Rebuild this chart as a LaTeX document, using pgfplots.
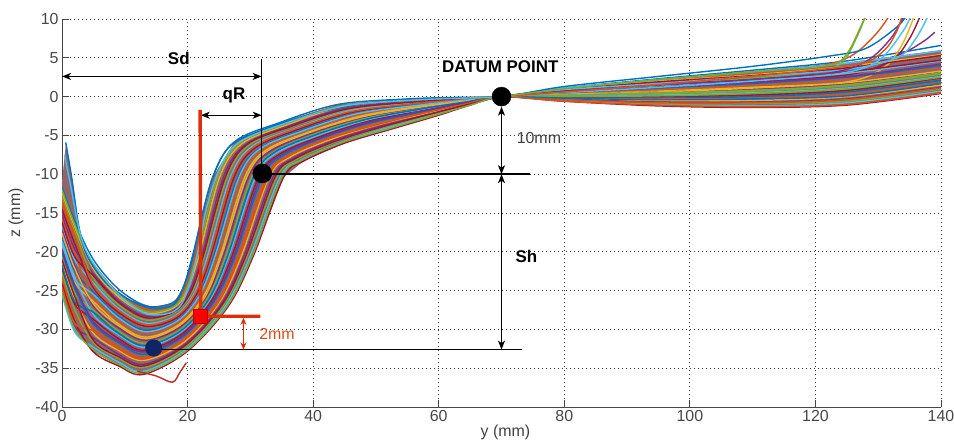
\documentclass[border=0pt]{standalone}
\usepackage{pgfplots}
\pgfplotsset{compat=1.18}
\usepackage{fontspec}
\setmainfont{Liberation Sans}
\usetikzlibrary{arrows.meta}

\definecolor{c1}{rgb}{0,0.447,0.741}
\definecolor{c2}{rgb}{0.85,0.325,0.098}
\definecolor{c3}{rgb}{0.929,0.694,0.125}
\definecolor{c4}{rgb}{0.494,0.184,0.556}
\definecolor{c5}{rgb}{0.466,0.674,0.188}
\definecolor{c6}{rgb}{0.301,0.745,0.933}
\definecolor{c7}{rgb}{0.635,0.078,0.184}
\definecolor{bandfill}{rgb}{0.56,0.40,0.42}
\definecolor{navy}{rgb}{0.06,0.15,0.40}
\definecolor{mred}{rgb}{0.86,0.18,0.04}
\definecolor{lred}{rgb}{0.86,0.30,0.10}

\tikzset{
  b/.style={smooth, tension=0.55, line width=1.4bp, line join=round},
  ann/.style={draw=black, line width=1.1bp,
    arrows={Stealth[length=9bp,width=7bp,inset=2.5bp]-Stealth[length=9bp,width=7bp,inset=2.5bp]}},
  bold/.style={font=\bfseries\fontsize{17}{17}\selectfont, text=black},
  norm/.style={font=\fontsize{16}{16}\selectfont, text=black!75},
}

\begin{document}
\begin{tikzpicture}
\begin{axis}[
  name=ax, scale only axis, width=879bp, height=388bp,
  xmin=0, xmax=140, ymin=-40, ymax=10,
  xtick={0,20,...,140}, ytick={-40,-35,...,10},
  axis x line*=bottom, axis y line*=left,
  axis line style={-, draw=black!72, line width=0.9bp},
  tick align=inside, major tick length=7bp,
  tick style={draw=black!72, line width=0.9bp},
  xtick pos=bottom, ytick pos=left,
  grid=major,
  major grid style={draw=black!80, line width=0.9bp, dash pattern=on 0.9bp off 3.1bp},
  ticklabel style={font=\fontsize{16}{18}\selectfont, text=black!72},
  /pgf/number format/assume math mode=true,
]

% envelope of the measured profiles
\addplot[draw=none, fill=bandfill] coordinates {
 (0,-11) (0.6,-6.2) (1.6,-10.7) (2.7,-16.8) (4,-20.5) (7,-24) (11,-26.3) (14.5,-27.1)
 (17.8,-26.6) (19.3,-24.6) (20.8,-20.5) (24,-10.4) (27.5,-5.8) (34.5,-3.4) (44,-1.0)
 (55,-0.3) (63,-0.1) (70,0) (80,1.1) (95,2.3) (110,3.3) (125,4.4) (140,6.0)
 (140,0.4) (125,-1.1) (110,-1.4) (95,-1.2) (80,-0.6) (70,0) (65,-1.1) (60,-2.4)
 (52,-4.3) (45,-6.0) (38.5,-8.3) (35.3,-10.4) (30.5,-20.5) (26.5,-27.0) (20,-32.8)
 (13,-35.8) (9,-34.7) (5,-32.9) (2,-30.3) (0,-25.5)};

% individual profiles
\addplot[b, c1] coordinates {(0,-11.7) (2,-16.0) (5,-21.0) (9,-24.8) (13.5,-27.0) (17.5,-26.6) (19.2,-24.8) (20.8,-20.5) (24.0,-10.4) (27.5,-5.8) (34.5,-3.4) (44.0,-1.0) (55.0,-0.3) (63.0,-0.1) (70,0) (80,1.1) (95,2.3) (110,3.4) (125,4.6) (140,6.6)};
\addplot[b, c2] coordinates {(0,-13.8) (2,-18.1) (5,-21.6) (9,-25.3) (13.5,-27.4) (17.6,-26.9) (19.6,-24.9) (21.3,-20.5) (24.6,-10.4) (28.1,-5.9) (35.0,-3.5) (44.4,-1.2) (55.3,-0.4) (63.1,-0.15) (70,0) (80,0.4) (95,0.9) (110,1.4) (125,2.2) (140,3.8)};
\addplot[b, c3] coordinates {(0,-12.4) (2,-16.7) (5,-22.2) (9,-25.8) (13.5,-27.9) (17.8,-27.2) (19.9,-25.0) (21.8,-20.5) (25.1,-10.4) (28.6,-6.1) (35.6,-3.7) (44.8,-1.3) (55.5,-0.5) (63.2,-0.2) (70,0) (80,-0.3) (95,-0.5) (110,-0.5) (125,0.0) (140,1.5)};
\addplot[b, c4] coordinates {(0,-15.2) (2,-19.6) (5,-22.8) (9,-26.3) (13.4,-28.3) (17.9,-27.5) (20.3,-25.1) (22.3,-20.5) (25.7,-10.4) (29.2,-6.2) (36.1,-3.8) (45.2,-1.5) (55.8,-0.6) (63.3,-0.25) (70,0) (80,0.8) (95,1.8) (110,2.6) (125,3.6) (133,5.3) (137,7.0) (139,8.3)};
\addplot[b, c5] coordinates {(0,-13.1) (2,-17.4) (5,-23.4) (9,-26.8) (13.4,-28.8) (18.0,-27.8) (20.7,-25.2) (22.7,-20.5) (26.3,-10.4) (29.7,-6.3) (36.6,-3.9) (45.6,-1.7) (56.0,-0.7) (63.4,-0.3) (70,0) (80,0.2) (95,0.4) (110,0.7) (125,1.4) (140,2.9)};
\addplot[b, c6] coordinates {(0,-16.5) (2,-21.0) (5,-24.0) (9,-27.3) (13.4,-29.2) (18.1,-28.2) (21.0,-25.4) (23.2,-20.5) (26.8,-10.4) (30.3,-6.4) (37.1,-4.1) (46.0,-1.8) (56.3,-0.8) (63.5,-0.35) (70,0) (80,-0.5) (95,-1.0) (110,-1.2) (125,-0.8) (140,0.7)};
\addplot[b, c7] coordinates {(0,-14.5) (2,-18.9) (5,-24.6) (9,-27.8) (13.4,-29.6) (18.3,-28.5) (21.4,-25.5) (23.7,-20.5) (27.4,-10.4) (30.8,-6.6) (37.7,-4.2) (46.4,-2.0) (56.5,-0.9) (63.6,-0.4) (70,0) (80,0.6) (95,1.3) (110,1.9) (125,2.8) (132,4.6) (135,7.5) (137,11)};
\addplot[b, c1] coordinates {(0,-17.9) (2,-22.4) (5,-25.2) (9,-28.3) (13.3,-30.1) (18.4,-28.8) (21.8,-25.6) (24.2,-20.5) (28.0,-10.4) (31.4,-6.7) (38.2,-4.3) (46.8,-2.2) (56.8,-1.0) (63.7,-0.45) (70,0) (80,-0.1) (95,-0.2) (110,0.0) (125,0.6) (140,2.1)};
\addplot[b, c2] coordinates {(0,-15.8) (2,-20.3) (5,-25.8) (9,-28.8) (13.3,-30.5) (18.5,-29.1) (22.1,-25.7) (24.7,-20.5) (28.5,-10.4) (31.9,-6.8) (38.7,-4.4) (47.2,-2.3) (57.0,-1.1) (63.8,-0.5) (70,0) (80,1.0) (95,2.1) (110,3.1) (121,4.0) (126,5.4) (130,8.4) (133,12)};
\addplot[b, c3] coordinates {(0,-19.3) (2,-23.9) (5,-26.4) (9,-29.3) (13.3,-31.0) (18.6,-29.4) (22.5,-25.8) (25.2,-20.5) (29.1,-10.4) (32.5,-6.9) (39.2,-4.6) (47.6,-2.5) (57.3,-1.2) (63.9,-0.55) (70,0) (80,0.3) (95,0.7) (110,1.2) (125,1.9) (131,3.8) (134,7) (136,11)};
\addplot[b, c4] coordinates {(0,-17.2) (2,-21.7) (5,-27.0) (9,-29.8) (13.3,-31.4) (18.8,-29.7) (22.9,-25.9) (25.7,-20.5) (29.7,-10.4) (33.0,-7.1) (39.8,-4.7) (48.0,-2.7) (57.5,-1.4) (64.0,-0.6) (70,0) (80,-0.3) (95,-0.7) (110,-0.7) (125,-0.3) (140,1.2)};
\addplot[b, c5] coordinates {(0,-20.7) (2,-25.3) (5,-27.5) (9,-30.2) (13.2,-31.8) (18.9,-30.0) (23.2,-26.0) (26.1,-20.5) (30.2,-10.4) (33.6,-7.2) (40.3,-4.8) (48.4,-2.8) (57.8,-1.5) (64.1,-0.65) (70,0) (80,0.8) (95,1.6) (110,2.4) (119,3.1) (124,4.2) (126.5,7.5) (128,10.5)};
\addplot[b, c6] coordinates {(0,-18.6) (2,-23.2) (5,-28.1) (9,-30.7) (13.2,-32.3) (19.0,-30.3) (23.6,-26.1) (26.6,-20.5) (30.8,-10.4) (34.1,-7.3) (40.8,-5.0) (48.8,-3.0) (58.0,-1.6) (64.2,-0.7) (70,0) (80,0.1) (95,0.2) (110,0.5) (125,1.1) (140,2.6)};
\addplot[b, c7] coordinates {(0,-22.1) (2,-26.7) (5,-28.7) (9,-31.2) (13.2,-32.7) (19.1,-30.6) (23.9,-26.2) (27.1,-20.5) (31.3,-10.4) (34.7,-7.4) (41.3,-5.1) (49.2,-3.1) (58.3,-1.7) (64.3,-0.75) (70,0) (80,-0.6) (95,-1.2) (110,-1.4) (125,-1.1) (140,0.4)};
\addplot[b, c1] coordinates {(0,-20.0) (2,-24.6) (5,-29.3) (9,-31.7) (13.2,-33.2) (19.3,-30.9) (24.3,-26.3) (27.6,-20.5) (31.9,-10.4) (35.2,-7.6) (41.9,-5.2) (49.6,-3.3) (58.5,-1.8) (64.4,-0.8) (70,0) (80,0.5) (95,1.1) (110,1.7) (125,2.5) (140,4.0)};
\addplot[b, c2] coordinates {(0,-23.4) (2,-28.2) (5,-29.9) (9,-32.2) (13.1,-33.6) (19.4,-31.3) (24.7,-26.5) (28.1,-20.5) (32.5,-10.4) (35.8,-7.7) (42.4,-5.4) (50.0,-3.5) (58.8,-1.9) (64.5,-0.85) (70,0) (80,-0.2) (95,-0.3) (110,-0.2) (125,0.3) (140,1.8)};
\addplot[b, c3] coordinates {(0,-21.4) (2,-26.0) (5,-30.5) (9,-32.7) (13.1,-34.0) (19.5,-31.6) (25.0,-26.6) (28.6,-20.5) (33.0,-10.4) (36.3,-7.8) (42.9,-5.5) (50.4,-3.6) (59.0,-2.0) (64.6,-0.9) (70,0) (80,0.9) (95,2.0) (110,2.8) (125,3.9) (140,5.4)};
\addplot[b, c4] coordinates {(0,-24.8) (2,-29.6) (5,-31.1) (9,-33.2) (13.1,-34.5) (19.6,-31.9) (25.4,-26.7) (29.0,-20.5) (33.6,-10.4) (36.9,-7.9) (43.4,-5.6) (50.8,-3.8) (59.3,-2.1) (64.7,-0.95) (70,0) (80,0.3) (95,0.6) (110,1.0) (125,1.7) (140,3.2)};
\addplot[b, c5] coordinates {(0,-22.7) (2,-27.4) (5,-31.7) (9,-33.7) (13.1,-34.9) (19.8,-32.2) (25.8,-26.8) (29.5,-20.5) (34.2,-10.4) (37.4,-8.1) (44.0,-5.7) (51.2,-4.0) (59.5,-2.2) (64.8,-1.0) (70,0) (80,-0.4) (95,-0.9) (110,-0.9) (125,-0.6) (140,1.0)};
\addplot[b, c6] coordinates {(0,-25.5) (2,-30.3) (5,-32.3) (9,-34.2) (13.0,-35.4) (19.9,-32.5) (26.1,-26.9) (30.0,-20.5) (34.7,-10.4) (38.0,-8.2) (44.5,-5.9) (51.6,-4.1) (59.8,-2.3) (64.9,-1.05) (70,0) (80,0.7) (95,1.4) (110,2.1) (125,3.0) (140,4.6)};
\addplot[b, c7] coordinates {(0,-24.1) (2,-28.9) (5,-32.9) (9,-34.7) (13.0,-35.8) (20.0,-32.8) (26.5,-27.0) (30.5,-20.5) (35.3,-10.4) (38.5,-8.3) (45.0,-6.0) (52.0,-4.3) (60.0,-2.4) (65.0,-1.1) (70,0) (80,0.0) (95,0.0) (110,0.2) (125,0.8) (140,2.4)};
% further profiles lying between the ones above
\addplot[b, c5] coordinates {(0,-12.0) (2,-16.4) (5,-21.9) (9,-25.5) (13.5,-27.7) (17.7,-27.1) (19.7,-25.0) (21.5,-20.5) (24.8,-10.4) (28.3,-6.0) (35.3,-3.6) (44.6,-1.2) (55.4,-0.5) (63.2,-0.2) (70,0) (80,0.0) (95,0.1) (110,0.4) (125,1.0) (140,2.5)};
\addplot[b, c7] coordinates {(0,-16.2) (2,-20.6) (5,-23.1) (9,-26.5) (13.4,-28.5) (17.9,-27.7) (20.5,-25.2) (22.5,-20.5) (26.0,-10.4) (29.4,-6.2) (36.3,-3.9) (45.4,-1.6) (55.9,-0.7) (63.4,-0.3) (70,0) (80,0.7) (95,1.5) (110,2.2) (125,3.2) (140,4.7)};
\addplot[b, c2] coordinates {(0,-13.4) (2,-17.8) (5,-24.3) (9,-27.5) (13.4,-29.4) (18.2,-28.3) (21.2,-25.4) (23.5,-20.5) (27.1,-10.4) (30.5,-6.5) (37.4,-4.1) (46.2,-1.9) (56.4,-0.9) (63.6,-0.4) (70,0) (80,-0.4) (95,-0.8) (110,-0.8) (125,-0.4) (140,1.1)};
\addplot[b, c6] coordinates {(0,-18.9) (2,-23.5) (5,-25.5) (9,-28.5) (13.3,-30.3) (18.4,-28.9) (21.9,-25.6) (24.4,-20.5) (28.2,-10.4) (31.6,-6.7) (38.4,-4.4) (47.0,-2.2) (56.9,-1.1) (63.8,-0.5) (70,0) (80,1.1) (95,2.2) (110,3.2) (125,4.3) (140,5.9)};
\addplot[b, c3] coordinates {(0,-17.6) (2,-22.1) (5,-26.7) (9,-29.5) (13.3,-31.2) (18.7,-29.5) (22.7,-25.9) (25.4,-20.5) (29.4,-10.4) (32.7,-7.0) (39.5,-4.6) (47.8,-2.6) (57.4,-1.3) (64.0,-0.6) (70,0) (80,0.3) (95,0.6) (110,1.1) (125,1.8) (140,3.3)};
\addplot[b, c1] coordinates {(0,-21.7) (2,-26.4) (5,-27.8) (9,-30.5) (13.2,-32.1) (18.9,-30.2) (23.4,-26.1) (26.4,-20.5) (30.5,-10.4) (33.8,-7.2) (40.5,-4.9) (48.6,-2.9) (57.9,-1.5) (64.2,-0.7) (70,0) (80,-0.2) (95,-0.4) (110,-0.3) (125,0.1) (140,1.7)};
\addplot[b, c4] coordinates {(0,-19.6) (2,-24.2) (5,-29.0) (9,-31.5) (13.2,-32.9) (19.2,-30.8) (24.1,-26.3) (27.4,-20.5) (31.6,-10.4) (34.9,-7.5) (41.6,-5.2) (49.4,-3.2) (58.4,-1.7) (64.4,-0.8) (70,0) (80,0.5) (95,1.2) (110,1.8) (125,2.6) (140,4.2)};
\addplot[b, c2] coordinates {(0,-24.5) (2,-29.2) (5,-30.2) (9,-32.5) (13.1,-33.8) (19.4,-31.4) (24.9,-26.5) (28.3,-20.5) (32.8,-10.4) (36.0,-7.7) (42.6,-5.4) (50.2,-3.6) (58.9,-1.9) (64.6,-0.9) (70,0) (80,-0.6) (95,-1.1) (110,-1.3) (125,-1.0) (140,0.5)};
\addplot[b, c7] coordinates {(0,-21.0) (2,-25.7) (5,-31.4) (9,-33.5) (13.1,-34.7) (19.7,-32.0) (25.6,-26.7) (29.3,-20.5) (33.9,-10.4) (37.1,-8.0) (43.7,-5.7) (51.0,-3.9) (59.4,-2.1) (64.8,-1.0) (70,0) (80,0.9) (95,1.9) (110,2.7) (125,3.7) (140,5.3)};
\addplot[b, c5] coordinates {(0,-25.2) (2,-29.9) (5,-32.6) (9,-34.5) (13.0,-35.6) (19.9,-32.7) (26.3,-27.0) (30.3,-20.5) (35.0,-10.4) (38.2,-8.2) (44.7,-5.9) (51.8,-4.2) (59.9,-2.3) (65.0,-1.1) (70,0) (80,0.2) (95,0.5) (110,0.8) (125,1.5) (140,3.1)};
% outlying profiles
\addplot[b, c1] coordinates {(0.6,-5.9) (1.6,-10.7) (2.7,-16.8) (4,-20.5) (7,-24.0) (11,-26.3) (14.5,-27.3) (17.8,-26.8) (19.3,-24.6) (20.6,-21.5) (22.4,-15) (24.2,-10) (27,-6.2) (33,-4.0) (41,-2.0) (50,-0.7) (60,-0.2) (70,0) (80,1.3) (95,2.6) (110,3.9) (122,5.2) (128,6.2) (133,9) (135,11)};
\addplot[b, c6] coordinates {(0.4,-7.5) (1.5,-12) (3,-18) (5,-21.5) (9,-25.5) (13.5,-28.0) (18,-27.6) (20,-25) (21.5,-20.5) (23,-14.5) (25,-9.5) (28,-6) (35,-3.6) (45,-1.2) (57,-0.4) (70,0) (80,0.9) (95,1.7) (110,2.6) (125,3.5) (133,5) (136,7.5) (138,10.5)};
\addplot[b, c7!60!c2] coordinates {(12,-35.4) (15,-36.0) (17.6,-36.8) (18.8,-35.5) (19.8,-34.3)};
\addplot[b, c4] coordinates {(70,0) (80,0.7) (95,1.5) (110,2.2) (122,3.0) (128,4.5) (132,7.5) (134.5,11)};
\addplot[b, c6] coordinates {(70,0) (80,0.5) (95,1.2) (110,2.0) (124,3.0) (130,4.6) (134,8.5) (135.5,11)};
\addplot[b, c2] coordinates {(70,0) (85,0.9) (100,1.9) (115,3.0) (127,4.2) (131,6) (133,8.5) (134,11)};
\addplot[b, c5] coordinates {(70,0) (80,1.0) (95,2.2) (110,3.2) (122,4.0) (125,5.5) (127.5,9.5) (128.5,11)};

% dimension lines
\draw[ann] (axis cs:0,2.6) -- (axis cs:31.8,2.6);
\draw[ann] (axis cs:22.1,-2.4) -- (axis cs:31.8,-2.4);
\draw[black, line width=1.4bp] (axis cs:31.8,4.8) -- (axis cs:31.8,-10);
\draw[black, line width=1.8bp] (axis cs:32,-10) -- (axis cs:74.6,-10);
\draw[black, line width=1.8bp] (axis cs:14.6,-32.6) -- (axis cs:73.3,-32.6);
\draw[ann] (axis cs:70,-1.3) -- (axis cs:70,-10);
\draw[ann] (axis cs:70,-10) -- (axis cs:70,-32.6);
\draw[mred, line width=3.4bp] (axis cs:22.0,-1.7) -- (axis cs:22.1,-28.3) -- (axis cs:31.6,-28.3);
\draw[draw=mred, line width=1.2bp,
  arrows={Stealth[length=7bp,width=6bp,inset=2bp]-Stealth[length=7bp,width=6bp,inset=2bp]}]
  (axis cs:28.9,-28.5) -- (axis cs:28.9,-32.6);

% reference points
\addplot[only marks, mark=*, mark size=9.5bp, black] coordinates {(70,0) (31.9,-9.9)};
\addplot[only marks, mark=*, mark size=8.3bp, navy] coordinates {(14.6,-32.4)};
\addplot[only marks, mark=square*, mark size=7bp, mark options={fill=red, draw=red!75!black, line width=0.8bp}] coordinates {(22.1,-28.3)};

% annotation text
\node[bold] at (axis cs:18.6,4.9) {Sd};
\node[bold] at (axis cs:27.4,0.2) {qR};
\node[bold] at (axis cs:69.8,3.9) {DATUM POINT};
\node[norm, anchor=west, inner sep=0] at (axis cs:72.4,-5.4) {10mm};
\node[bold, anchor=west, inner sep=0] at (axis cs:72.2,-20.6) {Sh};
\node[font=\fontsize{16}{16}\selectfont, text=lred, anchor=west, inner sep=0] at (axis cs:31.4,-30.6) {2mm};
\end{axis}

\node[norm, rotate=90] at ([xshift=-46bp]ax.west) {z (mm)};
\node[norm, anchor=north, inner sep=0] at ([xshift=4bp,yshift=-18bp]ax.south) {y (mm)};

\pgfresetboundingbox
\path[use as bounding box] ([xshift=-62bp,yshift=-33bp]ax.south west) rectangle ([xshift=13bp,yshift=19bp]ax.north east);
\end{tikzpicture}
\end{document}
